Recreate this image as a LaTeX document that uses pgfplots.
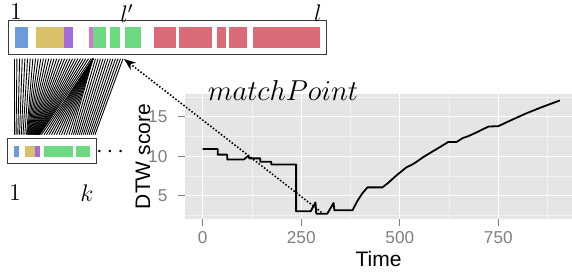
\documentclass[border=0pt]{standalone}
\usepackage[no-math]{fontspec}
\setmainfont{Liberation Sans}
\usepackage{pgfplots}
\pgfplotsset{compat=1.18}
\usetikzlibrary{arrows.meta}
\definecolor{ggbg}{HTML}{E5E5E5}
\definecolor{ggminor}{HTML}{F2F2F2}
\definecolor{gg50}{HTML}{7F7F7F}
\definecolor{cblue}{HTML}{6C9BDB}
\definecolor{cgold}{HTML}{D9C06B}
\definecolor{cpurple}{HTML}{A26DDB}
\definecolor{cpink}{HTML}{DB72D6}
\definecolor{cgreen}{HTML}{6DDA83}
\definecolor{cred}{HTML}{DA6B78}
\definecolor{cborder}{HTML}{3A3A3A}
\begin{document}
\begin{tikzpicture}[x=0.5pt,y=0.5pt]
\useasboundingbox (0,0) rectangle (572,273);
\begin{axis}[
  at={(92.5pt,27pt)}, anchor=south west,
  scale only axis, width=193.5pt, height=62.5pt,
  xmin=-45, xmax=937, ymin=2.05, ymax=17.87,
  axis background/.style={fill=ggbg},
  axis line style={draw=none},
  xtick={0,250,500,750}, ytick={5,10,15},
  minor xtick={125,375,625,875}, minor ytick={2.5,7.5,12.5,17.5},
  grid=both,
  major grid style={white, line width=0.6pt},
  minor grid style={ggminor, line width=0.3pt},
  tick pos=left, tick align=outside,
  major tick length=3.5pt, minor tick length=0pt,
  tick style={gg50, line width=0.5pt},
  /pgf/number format/assume math mode=true,
  ticklabel style={font=\fontsize{8.6}{10}\selectfont, text=gg50},
  yticklabel style={xshift=-1.8pt},
  xticklabel style={yshift=0.6pt},
  xlabel={Time}, ylabel={DTW score},
  label style={font=\fontsize{10.5}{12}\selectfont},
  xlabel style={at={(axis description cs:0.5,-0.32)}, anchor=center},
  ylabel style={at={(axis description cs:-0.1085,0.5)}, anchor=center},
  clip=false,
]
\addplot[black, line width=0.9pt, line join=round] coordinates {
(0,10.92) (38,10.92) (38,10.2) (62,10.2) (62,9.58) (104,9.58) (116,10.05) (118,9.72)
(146,9.72) (146,9.3) (174,9.3) (174,8.95) (237,8.95) (237,3.03) (274,3.03) (286,4.15)
(288,2.72) (316,2.72) (332,4.08) (334,3.15) (380,3.15) (392,4.3) (405,5.3) (418,6.05)
(456,6.05) (470,6.6) (490,7.5) (517,8.6) (530,8.9) (540,9.2) (560,9.9) (600,11.1)
(623,11.8) (644,11.8) (660,12.3) (672,12.5) (690,12.9) (725,13.75) (750,13.8)
(780,14.5) (820,15.4) (860,16.2) (906,17.05)
};
\coordinate (mp) at (axis cs:300,2.95);
\end{axis}
% matchPoint label
\node[font=\fontsize{13.5}{15}\selectfont] at (283,182) {$matchPoint$};
% top sequence
\foreach \a/\b/\c in {15/28/cblue,36/64/cgold,64/72.7/cpurple,89/93/cpink,93/106/cgreen,110/120/cgreen,125/141/cgreen,154/176/cred,179/212/cred,217/226/cred,229/247/cred,253/320/cred}
  \fill[\c] (\a,225.3) rectangle (\b,246);
\draw[cborder, line width=0.5pt] (8.3,218.7) rectangle (326,252);
% bottom sequence
\foreach \a/\b/\c in {14/19/cblue,25/35/cgold,35/40/cpurple,44/73/cgreen,76/90/cgreen}
  \fill[\c] (\a,115.7) rectangle (\b,127.3);
\draw[cborder, line width=0.5pt] (7.3,109.7) rectangle (96,134);
% warping lines (top x / bottom x)
\foreach \t/\b in {14.3/14.3,16.95/16.05,19.6/17.8,22.25/19.55,24.9/21.3,27.55/23.05,30.2/24.8,32.85/26.55,
35.5/27.15,38.15/27.75,40.8/28.35,43.45/28.95,46.1/29.55,48.75/30.15,51.4/30.75,54.05/31.35,56.7/31.95,59.35/32.55,62/33.15,64.65/33.75,67.3/34.35,69.95/34.95,72.6/35.55,75.25/36.15,77.9/36.75,80.55/37.35,83.2/37.95,85.85/38.55,88.5/39.15,91.15/39.75,
93/41.5,93/44,93/46.5,93/49,93/51.5,93/54,93/56.5,93/59,93/61.5,93/64,93/66.5,93/69,93/71.5,
95.5/73.5,98/75.45,100.5/77.4,103/79.35,105.5/81.3,108/83.25,110.5/85.2,113/87.15,115.5/89.1,118/91.05,120.5/93,123/94.95}
  \draw[black, line width=0.45pt] (\t,214.3) -- (\b,138.3);
% labels
\node[font=\fontsize{11.5}{12}\selectfont] at (16,261) {$1$};
\node[font=\fontsize{11.5}{12}\selectfont] at (127,259.5) {$l'$};
\node[font=\fontsize{11.5}{12}\selectfont] at (318,260) {$l$};
\node[font=\fontsize{11.5}{12}\selectfont] at (15,80) {$1$};
\node[font=\fontsize{11.5}{12}\selectfont] at (87,80) {$k$};
\node[font=\fontsize{11.5}{12}\selectfont] at (110,121) {$\cdots$};
% dotted arrow
\draw[black, line width=1.1pt, line cap=round, dash pattern=on 0pt off 1.7pt,
  -{Stealth[length=6pt,width=4.5pt]}] (mp) -- (124,214);
\end{tikzpicture}
\end{document}
